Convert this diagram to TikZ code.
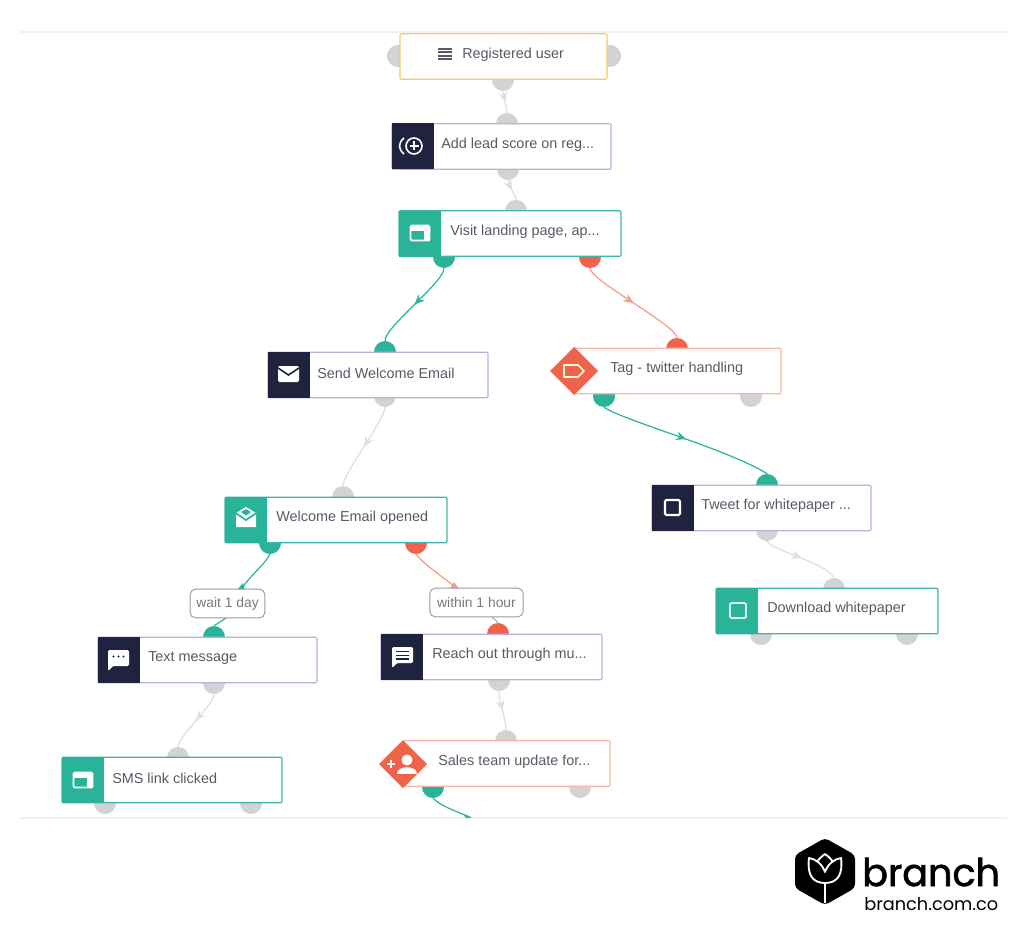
\documentclass[tikz,border=0pt]{standalone}
\usepackage{fontspec}
\setmainfont{Liberation Sans}
\newfontfamily\logofont[FakeBold=1.6]{Poppins}
\newfontfamily\logolight{Poppins}
\usetikzlibrary{calc,decorations.markings,arrows.meta}
\definecolor{cteal}{HTML}{2BB39A}
\definecolor{cred}{HTML}{F0634A}
\definecolor{cnavy}{HTML}{20233F}
\definecolor{cperi}{HTML}{B4B4DE}
\definecolor{cyel}{HTML}{F6C96B}
\definecolor{ctealb}{HTML}{3DB8A8}
\definecolor{csalm}{HTML}{F5B7A6}
\definecolor{cgray}{HTML}{D3D3D3}
\definecolor{cconn}{HTML}{DEDEDE}
\definecolor{ctxt}{HTML}{555B66}
\definecolor{csalmline}{HTML}{F49A85}
\definecolor{cruleline}{HTML}{F0F0F0}
\tikzset{
  port/.style={circle,fill=#1,minimum size=16.5pt,inner sep=0pt,draw=none},
  boxnode/.style={rectangle,draw=#1,fill=white,line width=0.9pt,inner sep=0pt,minimum height=34pt,rounded corners=0.8pt},
  tile/.style={rectangle,fill=#1,draw=none,inner sep=0pt,minimum width=31.5pt,minimum height=34.5pt},
  dia/.style={fill=cred,draw=none},
  lab/.style={text=ctxt,font=\fontsize{10.8pt}{12pt}\selectfont,anchor=west,inner sep=0pt},
  waitlab/.style={draw=gray!80,line width=0.7pt,fill=white,rounded corners=4pt,text=gray!95!black,font=\fontsize{10.4pt}{12pt}\selectfont,inner sep=0pt,minimum height=21.5pt},
  conn/.style={line width=0.9pt,draw=#1,postaction={decorate},decoration={markings,mark=at position 0.5 with {\arrow[#1]{Stealth[length=7.5pt,width=6.5pt]}}}},
  connp/.style={line width=0.9pt,draw=#1},
  rulel/.style={draw=cruleline,line width=0.9pt},
  icon/.style={draw=white,line width=1.2pt,line join=round},
}
\newcommand{\flowbox}[8]{% name x1 y1 x2 y2 colour textx text
  \node[boxnode=#6,minimum width={(#4-#2)*0.75pt}] (#1) at ({(#2+#4)/2},{(#3+#5)/2}) {};
  \node[lab] (#1t) at (#7,{(#3+#5)/2-2}) {#8};
}
\newcommand{\curve}[4]{% from to bend style
  \draw[#4] (#1) .. controls ($(#1)+(0,#3)$) and ($(#2)+(0,-#3)$) .. (#2);
}
\begin{document}
\begin{tikzpicture}[x=0.75pt,y=-0.75pt]
\useasboundingbox (0,0) rectangle (1024,945);
\fill[white] (0,0) rectangle (1024,945);
% frame rules
\coordinate (ra) at (20,32); \coordinate (rb) at (1007,32);
\coordinate (rc) at (20,818); \coordinate (rd) at (1007,818);
\draw[rulel] (ra) -- (rb);
\draw[rulel] (rc) -- (rd);
% ports
\foreach \n/\x/\y/\c in {
 p1l/398/56/cgray,p1r/610/56/cgray,p1b/503/80/cgray,
 p2t/507/124/cgray,p2b/508/169/cgray,
 p3t/516/211/cgray,p3g/444/257/cteal,p3r/590/257/cred,
 p4t/385/352/cteal,p4b/385/396/cgray,
 p5t/677/349/cred,p5g/604/396/cteal,p5b/751/396/cgray,
 p6t/767/485/cteal,p6b/767/530/cgray,
 p7t/834/589/cgray,p7a/761/634/cgray,p7b/907/634/cgray,
 p8t/343/497/cgray,p8g/270/543/cteal,p8r/416/543/cred,
 p9t/214/637/cteal,p9b/214/683/cgray,
 p10t/498/634/cred,p10b/499/680/cgray,
 p11t/178/758/cgray,p11a/105/803/cgray,p11b/251/803/cgray,
 p12t/506/741/cgray,p12g/433/787/cteal,p12b/580/787/cgray}
 {\node[port=\c] (\n) at (\x,\y) {};}
% connectors
\curve{p1b.south}{p2t.north}{4}{conn=cconn}
\curve{p2b.south}{p3t.north}{4}{conn=cconn}
\curve{p3g.south}{p4t.north}{14}{conn=cteal}
\curve{p3r.south}{p5t.north}{12}{conn=csalmline}
\curve{p4b.south}{p8t.north}{12}{conn=cconn}
\draw[conn=cteal] (p5g.south) .. controls (622,420) and (730,450) .. (p6t.north);
\draw[conn=cconn] (p6b.south) .. controls (775,552) and (825,562) .. (p7t.north);
\curve{p9b.south}{p11t.north}{10}{conn=cconn}
\curve{p10b.south}{p12t.north}{10}{conn=cconn}
\coordinate (sge) at (470,817);
\draw[connp=cteal] (p12g.south) .. controls (441,806) and (455,811) .. (sge);
\fill[cteal] (463,814) -- (472,817.5) -- (466,818) -- cycle;
% boxes
\flowbox{n1}{400}{34}{607}{79}{cyel}{462}{Registered user}
\flowbox{n2}{392}{124}{611}{169}{cperi}{441}{Add lead score on reg...}
\flowbox{n3}{399}{210}{621}{257}{ctealb}{450}{Visit landing page, ap...}
\flowbox{n4}{268}{352}{488}{398}{cperi}{317}{Send Welcome Email}
\flowbox{n5}{574}{348}{781}{394}{csalm}{610}{Tag - twitter handling}
\flowbox{n6}{652}{485}{871}{531}{cperi}{701}{Tweet for whitepaper ...}
\flowbox{n7}{716}{588}{938}{634}{ctealb}{767}{Download whitepaper}
\flowbox{n8}{225}{497}{447}{543}{ctealb}{276}{Welcome Email opened}
\flowbox{n9}{98}{637}{317}{683}{cperi}{148}{Text message}
\flowbox{n10}{381}{634}{602}{680}{cperi}{432}{Reach out through mu...}
\flowbox{n11}{62}{757}{282}{803}{ctealb}{112}{SMS link clicked}
\flowbox{n12}{403}{741}{610}{786}{csalm}{438}{Sales team update for...}
% tiles
\foreach \n/\x/\y/\c in {t2/412.5/146.5/cnavy,t3/420/233.5/cteal,t4/288.5/375/cnavy,t6/672.5/508/cnavy,
 t7/737/611/cteal,t8/246/520/cteal,t9/119/660/cnavy,t10/402/657/cnavy,t11/83/780/cteal}
 {\node[tile=\c] (\n) at (\x,\y) {};}
% wait labels
\draw[connp=cteal] (p8g.south) .. controls (262,568) and (250,575) .. (241,590);
\draw[connp=cteal] (226,618) -- (p9t.north);
\fill[cteal] (237,590) -- (245,590) -- (243,583) -- cycle;
\draw[connp=csalmline] (p8r.south) .. controls (425,565) and (440,575) .. (458,589);
\draw[connp=csalmline] (492,617) -- (p10t.north);
\fill[csalmline] (459,589) -- (450,588) -- (454,582) -- cycle;
\node[waitlab,minimum width=56pt] (w1) at (227.5,603.5) {wait 1 day};
\node[waitlab,minimum width=70pt] (w2) at (476.5,602.5) {within 1 hour};
% diamonds
\fill[dia] (574,347) -- (598,371) -- (574,395) -- (550,371) -- cycle;
\fill[dia] (403,740) -- (427,764) -- (403,788) -- (379,764) -- cycle;
% icons: list
\foreach \yy in {48,51.3,54.6,57.9}{\fill[ctxt] (438,\yy) rectangle (452,\yy+2);}
% add score
\draw[icon] (414,146) circle (8);
\draw[icon] (414,141.5) -- (414,150.5) (409.5,146) -- (418.5,146);
\draw[icon] (404,138) .. controls (398,143) and (398,149) .. (404,154);
% visit
\foreach \xx/\yy in {420/233,83/780}{
 \begin{scope}[shift={(\xx,\yy)}]
 \draw[white,line width=1.3pt,rounded corners=1pt] (-9.5,-7.5) rectangle (9.5,7.5);
 \fill[white] (-9.5,-7.5) rectangle (9.5,-2.5);
 \fill[white] (4,-2.5) rectangle (9.5,7.5);
 \end{scope}}
% mail
\fill[white,rounded corners=1pt] (278,366) rectangle (299,382);
\draw[cnavy,line width=1.2pt] (278,368) -- (288.5,375) -- (299,368);
% open mail
\fill[white] (236,513) -- (246,507) -- (256,513) -- (256,527) -- (236,527) -- cycle;
\draw[cteal,line width=1.3pt] (235.5,513) -- (246,520) -- (256.5,513);
\fill[cteal] (241,512) -- (246,509) -- (251,512) -- (246,515.5) -- cycle;
% tag
\draw[white!85!yellow,line width=1.3pt,line join=round] (564,365) -- (578,365) -- (584,371) -- (578,377) -- (564,377) -- cycle;
% person plus
\fill[white] (407,760) circle (5.5);
\fill[white] (397,774) .. controls (397,765) and (417,765) .. (417,774) -- cycle;
\draw[white,line width=1.6pt] (387,764) -- (395,764) (391,760) -- (391,768);
% tweet and download
\draw[white,line width=1.6pt,rounded corners=1pt] (665,500) rectangle (680,515);
\draw[white!85!cteal,line width=1.4pt,rounded corners=1pt] (730,603) rectangle (746,618);
% chat text message
\fill[white,rounded corners=1pt] (108,650) -- (129,650) -- (129,666) -- (113,666) -- (108,671) -- cycle;
\foreach \xx in {113.5,118.5,123.5}{\fill[cnavy] (\xx,656.5) circle (1.2);}
% chat reach
\fill[white,rounded corners=1pt] (392,647) -- (413,647) -- (413,663) -- (397,663) -- (392,668) -- cycle;
\foreach \yy in {651.5,655.5,659}{\draw[cnavy,line width=1.2pt] (396,\yy) -- (409,\yy);}
% logo
\fill[black,rounded corners=3pt] (825,838) -- (855,855) -- (855,888) -- (825,905) -- (795,888) -- (795,855) -- cycle;
\draw[white,line width=1.4pt,line join=round] (825,883) -- (825,903);
\draw[white,line width=1.4pt,line join=round] (825,883) .. controls (812,883) and (807,874) .. (809,858) .. controls (816,859) and (822,864) .. (825,872) .. controls (828,864) and (834,859) .. (841,858) .. controls (843,874) and (838,883) .. (825,883);
\draw[white,line width=1.4pt,line join=round] (817,862) .. controls (819,859) and (822,856) .. (825,854) .. controls (828,856) and (831,859) .. (833,862);
\node[anchor=base west,inner sep=0pt,font=\fontsize{28.6pt}{30pt}\logofont,text=black] (brand) at (862,886) {branch};
\node[anchor=base west,inner sep=0pt,font=\fontsize{13.3pt}{15pt}\logolight,text=black] (brandurl) at (864,910) {branch.com.co};
\end{tikzpicture}
\end{document}
